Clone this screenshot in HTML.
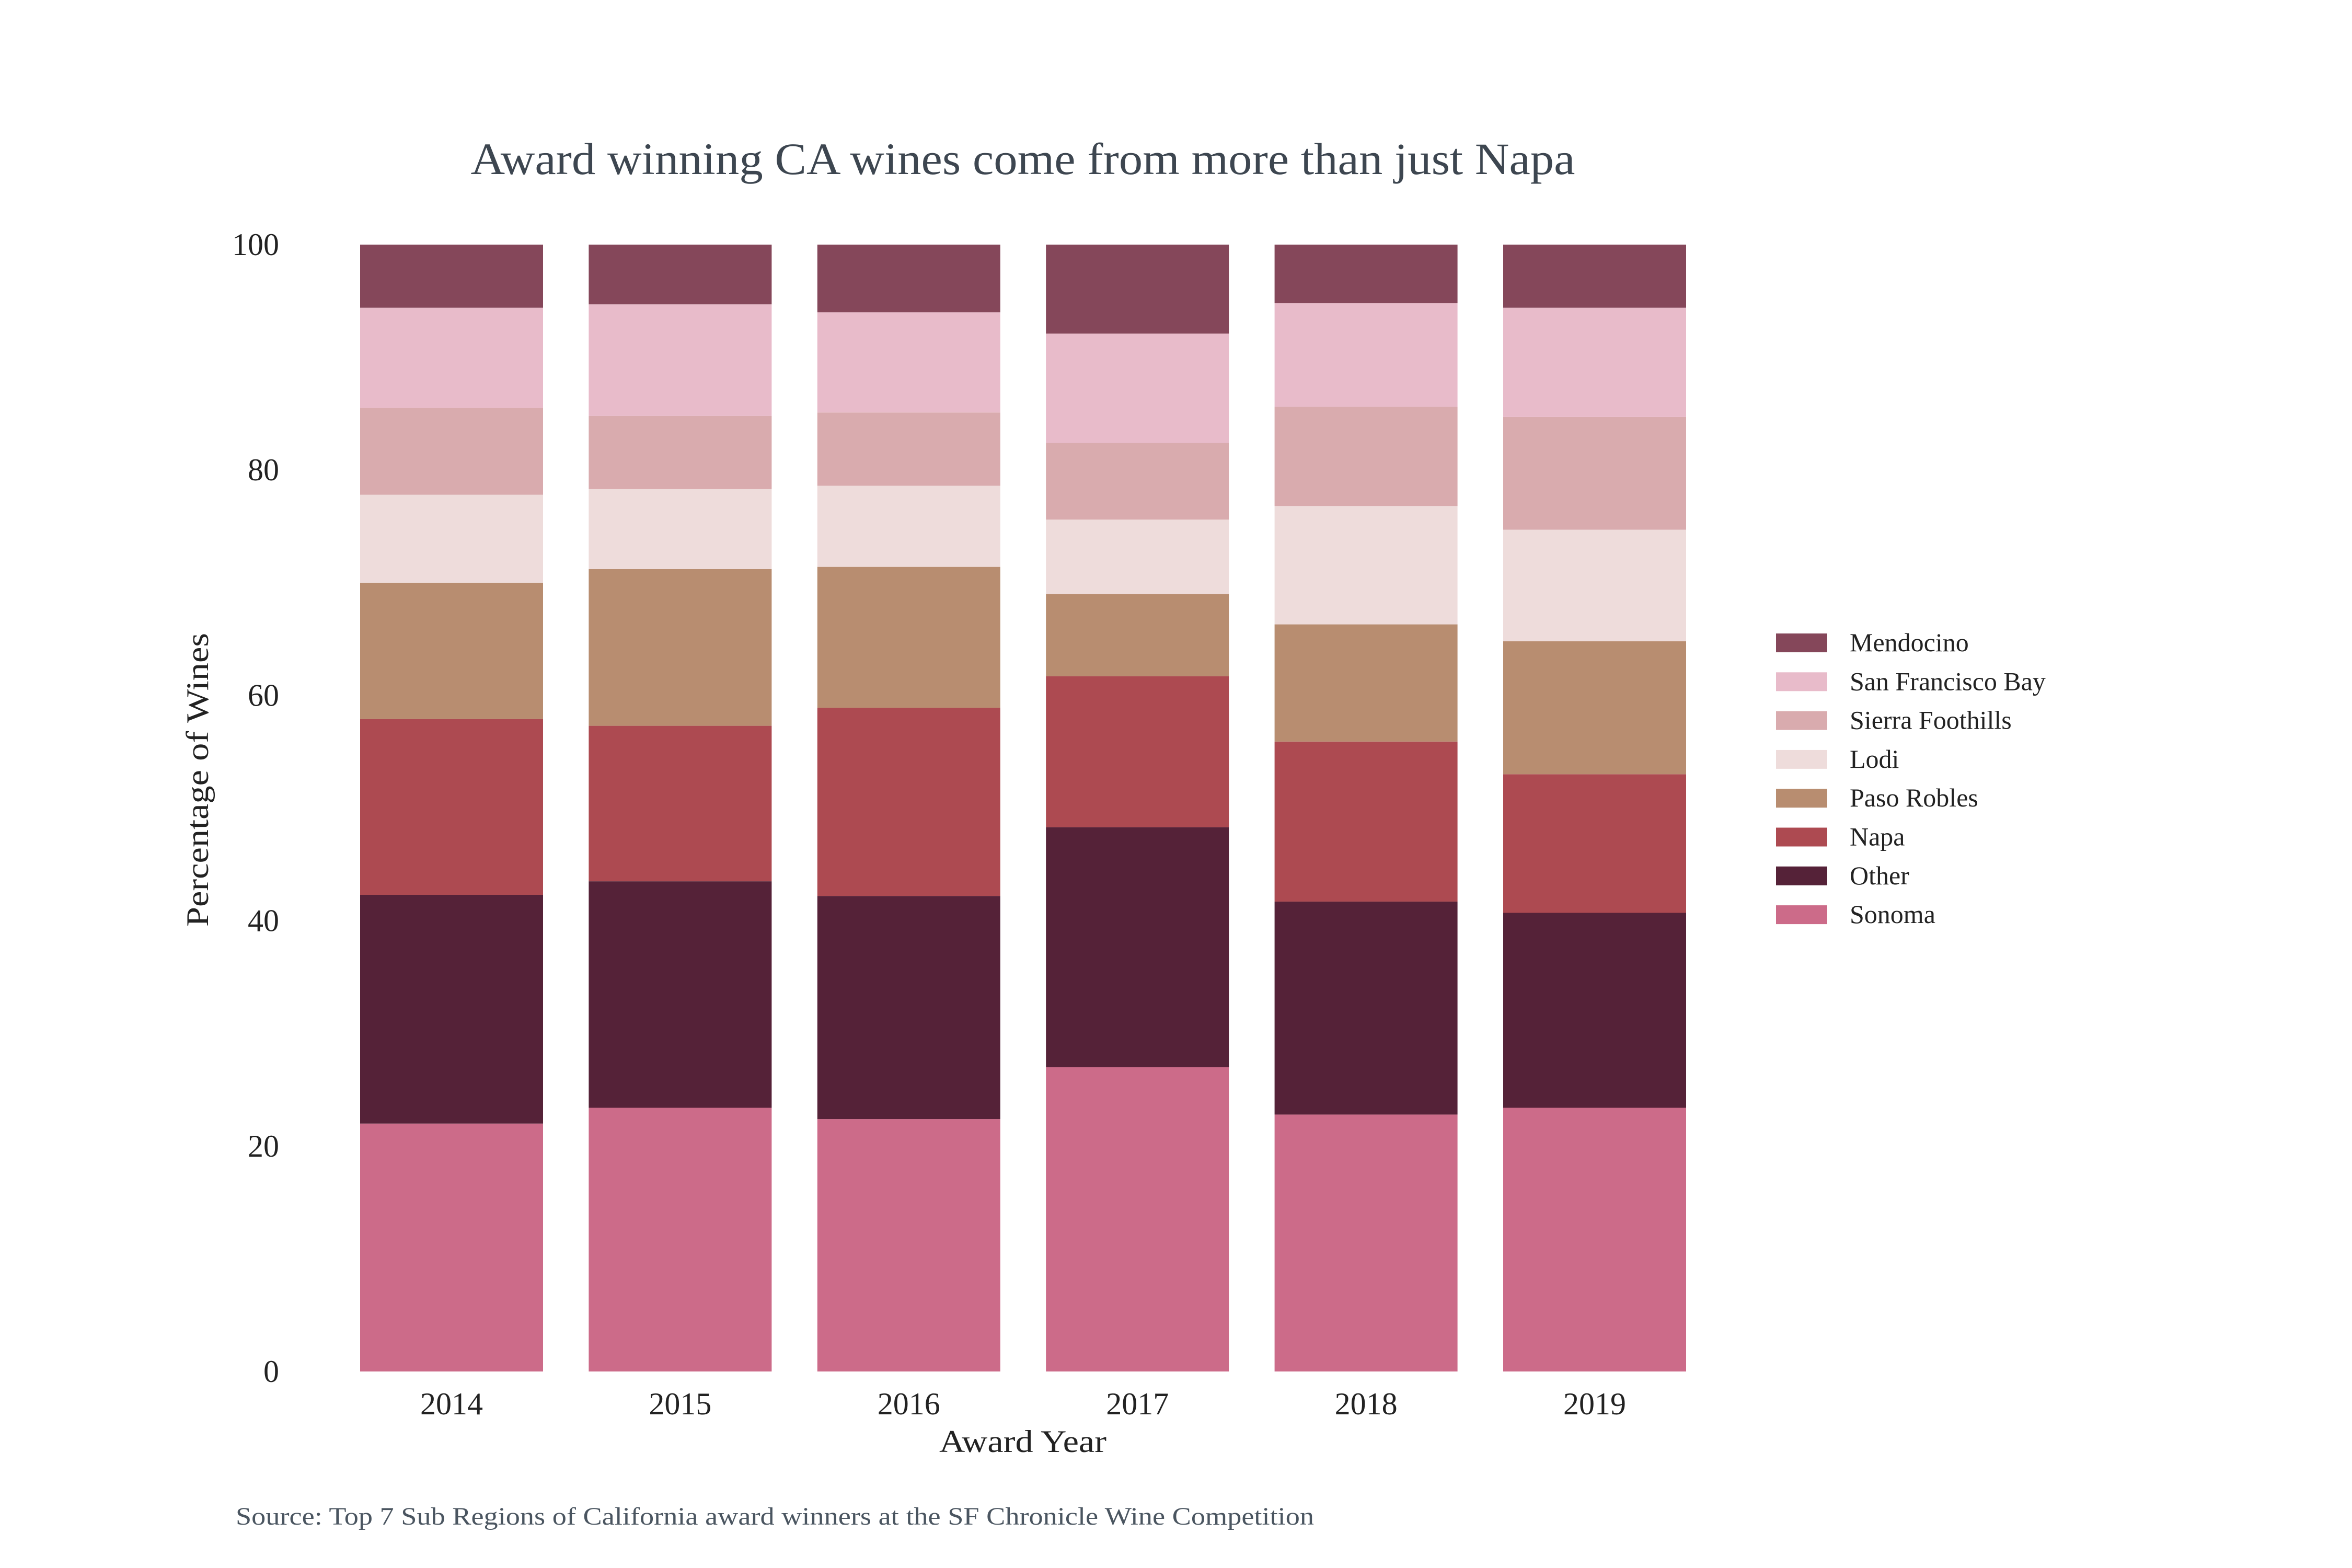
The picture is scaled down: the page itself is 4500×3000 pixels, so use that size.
<!DOCTYPE html>
<html><head><meta charset="utf-8">
<style>
html,body{margin:0;padding:0;background:#fff;}
svg{display:block;font-family:"Liberation Serif",serif;}
</style></head>
<body>
<svg id="chart" width="4500" height="3000" viewBox="0 0 4500 3000">
<text x="1957" y="333" text-anchor="middle" font-size="86" fill="#3d4650" textLength="2113" lengthAdjust="spacingAndGlyphs">Award winning CA wines come from more than just Napa</text>
<g id="yticks"></g>
<g id="bars"></g>
<g id="xticks"></g>
<text x="1957" y="2778" text-anchor="middle" font-size="60" fill="#222" textLength="320" lengthAdjust="spacingAndGlyphs">Award Year</text>
<text transform="translate(398,1492) rotate(-90)" text-anchor="middle" font-size="60" fill="#222" textLength="562" lengthAdjust="spacingAndGlyphs">Percentage of Wines</text>
<g id="legend"></g>
<text x="451" y="2917" font-size="48" fill="#4a5560" textLength="2063" lengthAdjust="spacingAndGlyphs">Source: Top 7 Sub Regions of California award winners at the SF Chronicle Wine Competition</text>
</svg>
<script>
const years = ["2014","2015","2016","2017","2018","2019"];
const seriesNames = ["Sonoma","Other","Napa","Paso Robles","Lodi","Sierra Foothills","San Francisco Bay","Mendocino"];
const sonoma = [22.0,23.4,22.4,27.0,22.8,23.4];
const other = [20.3,20.1,19.8,21.3,18.9,17.3];
const napa = [15.6,13.8,16.7,13.4,14.2,12.3];
const pasoRobles = [12.1,13.9,12.5,7.3,10.4,11.8];
const lodi = [7.8,7.1,7.2,6.6,10.5,9.9];
const sierraFoothills = [7.7,6.5,6.5,6.8,8.8,10.0];
const sanFranciscoBay = [8.9,9.9,8.9,9.7,9.2,9.7];
const mendocino = [5.6,5.3,6.0,7.9,5.2,5.6];
const yTicks = [0,20,40,60,80,100];

const seriesValues = [sonoma,other,napa,pasoRobles,lodi,sierraFoothills,sanFranciscoBay,mendocino];
const colors = ["#cc6b89","#552238","#ad4a51","#b88d70","#eedcdb","#d9abae","#e8bbca","#85475a"];
const NS = "http://www.w3.org/2000/svg";
const plotTop = 468, plotBottom = 2624, step = 437.4, barW = 350, plotLeft = 689 - (437.4-350)/2;
function yScale(v){ return plotBottom - (v/100)*(plotBottom-plotTop); }
function xCenter(i){ return plotLeft + step*(i+0.5); }
function mk(tag, attrs, parent){ const e=document.createElementNS(NS,tag); for(const k in attrs) e.setAttribute(k,attrs[k]); parent.appendChild(e); return e; }

const yg = document.getElementById('yticks');
yTicks.forEach(t=>{
  const e = mk('text',{x:534,y:yScale(t)+20,'text-anchor':'end','font-size':60,fill:'#222'},yg);
  
  
  e.textContent = t;
});

const bg = document.getElementById('bars');
years.forEach((yr,i)=>{
  let cum = 0;
  seriesValues.forEach((vals,s)=>{
    const v = vals[i];
    const y0 = yScale(cum), y1 = yScale(cum+v);
    const r = mk('rect',{x:xCenter(i)-barW/2,y:y1,width:barW,height:y0-y1,fill:colors[s]},bg);
    
    
    cum += v;
  });
});

const xg = document.getElementById('xticks');
years.forEach((yr,i)=>{
  const e = mk('text',{x:xCenter(i),y:2706,'text-anchor':'middle','font-size':60,fill:'#222'},xg);
  
  
  e.textContent = yr;
});

const lg = document.getElementById('legend');
for(let k=0;k<8;k++){
  const s = 7-k;
  const cy = 1230 + k*74.3;
  const r = mk('rect',{x:3398,y:cy-18,width:98,height:36,fill:colors[s]},lg);
  
  
  const t = mk('text',{x:3539,y:cy+16,'font-size':50,fill:'#222'},lg);
  
  
  t.textContent = seriesNames[s];
}
</script>
</body></html>
